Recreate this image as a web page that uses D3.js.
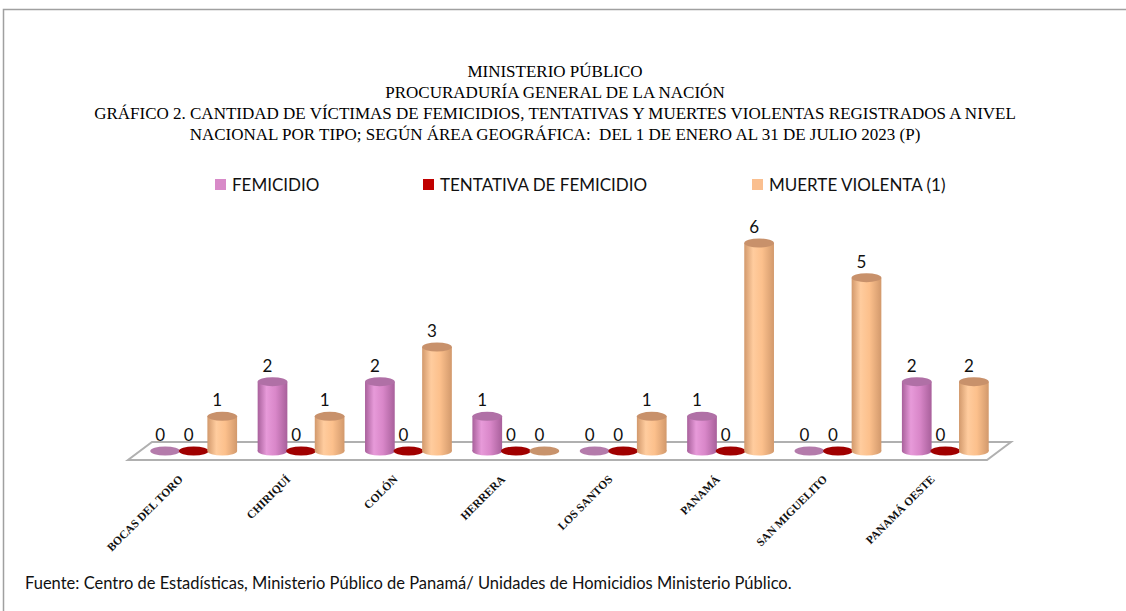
<!DOCTYPE html>
<html>
<head>
<meta charset="utf-8">
<script src="https://cdn.jsdelivr.net/npm/d3@7"></script>
<style>
  body { margin: 0; background: #fff; }
  svg { display: block; }
</style>
</head>
<body>
<script>
const categories = ["BOCAS DEL TORO", "CHIRIQUÍ", "COLÓN", "HERRERA", "LOS SANTOS", "PANAMÁ", "SAN MIGUELITO", "PANAMÁ OESTE"];
const series = ["FEMICIDIO", "TENTATIVA DE FEMICIDIO", "MUERTE VIOLENTA (1)"];
const femicidio = [0, 2, 2, 1, 0, 1, 0, 2];
const tentativa = [0, 0, 0, 0, 0, 0, 0, 0];
const muerte = [1, 1, 3, 0, 1, 6, 5, 2];

const titleLines = [
	"MINISTERIO PÚBLICO",
	"PROCURADURÍA GENERAL DE LA NACIÓN",
	"GRÁFICO 2. CANTIDAD DE VÍCTIMAS DE FEMICIDIOS, TENTATIVAS Y MUERTES VIOLENTAS REGISTRADOS A NIVEL",
	"NACIONAL POR TIPO; SEGÚN ÁREA GEOGRÁFICA:  DEL 1 DE ENERO AL 31 DE JULIO 2023 (P)"
];
const source = "Fuente: Centro de Estadísticas, Ministerio Público de Panamá/ Unidades de Homicidios Ministerio Público.";

const w = 1126;
const h = 611;

// colours per series: body, dark edge, top cap, zero disc, legend swatch
const styles = [
	{ light: "#e79ad9", mid: "#d987c9", dark: "#a8609b", top: "#b070a6", zero: "#b47bab", legend: "#d88ac8" },
	{ light: "#d01010", mid: "#c00000", dark: "#8a0000", top: "#a00000", zero: "#a00000", legend: "#c00000" },
	{ light: "#ffcc9e", mid: "#fcc08c", dark: "#d2996c", top: "#c8916b", zero: "#c8936c", legend: "#fabf8f" }
];

const data = categories.map((c, i) => ({
	cat: c,
	values: [femicidio[i], tentativa[i], muerte[i]]
}));

const svg = d3.select("body").append("svg")
	.attr("width", w)
	.attr("height", h);

// outer frame
svg.append("rect")
	.attr("x", 3.5).attr("y", 9.5)
	.attr("width", w + 20).attr("height", h + 20)
	.attr("fill", "none")
	.attr("stroke", "#a0a0a0")
	.attr("stroke-width", 1.5);

// title
svg.append("g").selectAll("text").data(titleLines).enter()
	.append("text")
	.attr("x", 555)
	.attr("y", (d, i) => 77 + i * 21)
	.attr("text-anchor", "middle")
	.style("font-family", "'Liberation Serif', serif")
	.style("font-size", "17px")
	.style("white-space", "pre")
	.attr("fill", "#000")
	.text(d => d);

// legend
const legendX = [215, 423, 752];
const legend = svg.append("g").selectAll("g").data(series).enter()
	.append("g")
	.attr("transform", (d, i) => "translate(" + legendX[i] + ",179)");
legend.append("rect")
	.attr("width", 11).attr("height", 11)
	.attr("fill", (d, i) => styles[i].legend);
legend.append("text")
	.attr("x", 17).attr("y", 12)
	.style("font-family", "Lato, sans-serif")
	.style("font-size", "17px")
	.attr("fill", "#111")
	.text(d => d);

// scales
const x0 = d3.scaleBand().domain(categories).range([140, 999]);
const x1 = d3.scaleBand().domain(series).range([0, x0.bandwidth()]).paddingOuter(0.38);
const y = d3.scaleLinear().domain([0, 6]).range([451, 243]);

const depthX = 24, depthY = 18;
const barW = x1.step() * 1.04;
const ry = 4.5;

// gradients
const defs = svg.append("defs");
styles.forEach((s, i) => {
	const g = defs.append("linearGradient")
		.attr("id", "grad" + i)
		.attr("x1", 0).attr("x2", 1).attr("y1", 0).attr("y2", 0);
	g.append("stop").attr("offset", "0%").attr("stop-color", s.dark);
	g.append("stop").attr("offset", "30%").attr("stop-color", s.light);
	g.append("stop").attr("offset", "60%").attr("stop-color", s.mid);
	g.append("stop").attr("offset", "100%").attr("stop-color", s.dark);
});

// floor
const r0 = x0.range()[0], r1 = x0.range()[1];
const base = y(0);
const floorPts = [
	[r0 - depthX / 2, base + depthY / 2],
	[r1 - depthX / 2, base + depthY / 2],
	[r1 + depthX / 2, base - depthY / 2],
	[r0 + depthX / 2, base - depthY / 2]
];
svg.append("polygon")
	.attr("points", floorPts.map(p => p.join(",")).join(" "))
	.attr("fill", "#fff")
	.attr("stroke", "#b0b0b0")
	.attr("stroke-width", 2);

// bars
const groups = svg.append("g").selectAll("g").data(data).enter()
	.append("g")
	.attr("transform", d => "translate(" + x0(d.cat) + ",0)");

const bars = groups.selectAll("g").data(d => d.values.map((v, i) => ({ v: v, s: i }))).enter()
	.append("g");

bars.each(function (d) {
	const g = d3.select(this);
	const cx = x1(series[d.s]) + x1.bandwidth() / 2;
	const st = styles[d.s];
	if (d.v === 0) {
		g.append("ellipse")
			.attr("cx", cx).attr("cy", base)
			.attr("rx", barW / 2).attr("ry", ry)
			.attr("fill", st.zero);
	} else {
		const top = y(d.v);
		g.append("ellipse")
			.attr("cx", cx).attr("cy", base)
			.attr("rx", barW / 2).attr("ry", ry)
			.attr("fill", "url(#grad" + d.s + ")");
		g.append("rect")
			.attr("x", cx - barW / 2).attr("y", top)
			.attr("width", barW).attr("height", base - top)
			.attr("fill", "url(#grad" + d.s + ")");
		g.append("ellipse")
			.attr("cx", cx).attr("cy", top)
			.attr("rx", barW / 2).attr("ry", ry)
			.attr("fill", st.top);
	}
	g.append("text")
		.attr("x", cx - 5)
		.attr("y", y(d.v) - 10)
		.attr("text-anchor", "middle")
		.style("font-family", "Lato, sans-serif")
		.style("font-size", "17px")
		.attr("fill", "#111")
		.text(d.v);
});

// category labels
svg.append("g").selectAll("text").data(categories).enter()
	.append("text")
	.attr("transform", d => "translate(" + (x0(d) + x0.bandwidth() / 2 - 10) + "," + (base + 29) + ") rotate(-45)")
	.attr("text-anchor", "end")
	.style("font-family", "'Liberation Serif', serif")
	.style("font-weight", "bold")
	.style("font-size", "11.5px")
	.attr("fill", "#111")
	.text(d => d);

// source note
svg.append("text")
	.attr("x", 25).attr("y", 589)
	.style("font-family", "Lato, sans-serif")
	.style("font-size", "16.5px")
	.attr("fill", "#111")
	.text(source);
</script>
</body>
</html>
